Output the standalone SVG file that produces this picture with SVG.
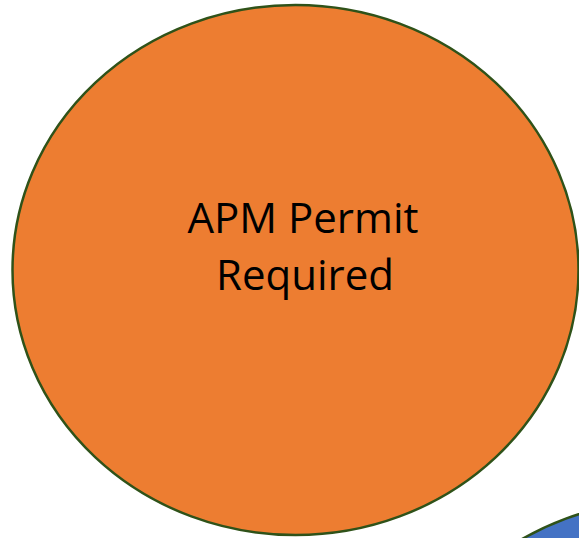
<svg xmlns="http://www.w3.org/2000/svg" width="579" height="538" viewBox="0 0 579 538">
<style>
.node{stroke:#2F5219;stroke-width:2.5}
.lbl{font-family:"Open Sans","Liberation Sans",sans-serif;font-size:42px;fill:#000;text-anchor:middle}
</style>
<rect width="579" height="538" fill="#fff"/>
<g id="blue-node">
<ellipse class="node" cx="670" cy="765" rx="283" ry="265" fill="#4472C4"/>
</g>
<g id="apm-node">
<ellipse class="node" cx="295.5" cy="270" rx="283" ry="265" fill="#ED7D31"/>
<text class="lbl" x="303" y="233">APM Permit</text>
<text class="lbl" x="305" y="290">Required</text>
</g>
<g id="connectors"/>
</svg>
